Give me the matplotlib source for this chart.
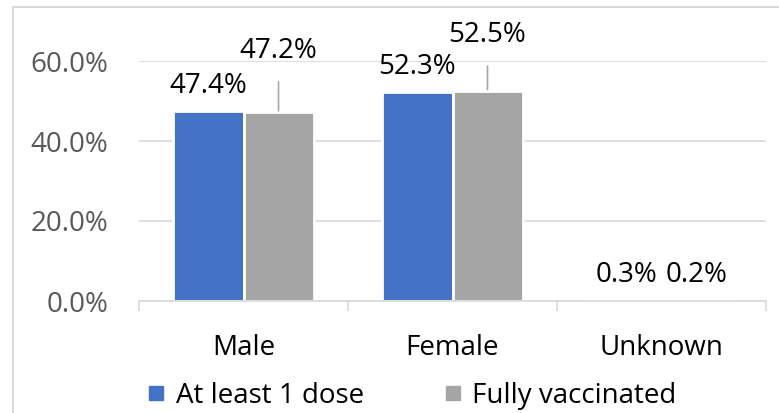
import matplotlib
matplotlib.use("Agg")
import matplotlib.pyplot as plt
from matplotlib.patches import Rectangle
from matplotlib.lines import Line2D
import numpy as np

plt.rcParams['font.family'] = ['Open Sans', 'DejaVu Sans']

# data
categories = ["Male", "Female", "Unknown"]
series_names = ["At least 1 dose", "Fully vaccinated"]
at_least_one = [0.474, 0.523, 0.003]
fully_vacc = [0.472, 0.525, 0.002]
yticks = [0.0, 0.2, 0.4, 0.6]

blue = "#4472C4"
gray = "#A5A5A5"
grid_c = "#D9D9D9"

fig = plt.figure(figsize=(7.79, 4.13), dpi=100)
ax = fig.add_axes([139/779, 1 - 301/413, (766-139)/779, (301-61)/413])

x = np.arange(len(categories))
w = 0.335
ax.bar(x - w/2, at_least_one, w, color=blue, edgecolor="white", linewidth=2, zorder=3)
ax.bar(x + w/2, fully_vacc, w, color=gray, edgecolor="white", linewidth=2, zorder=3)

ax.set_xlim(-0.5, 2.5)
ax.set_ylim(0, 0.6)
ax.set_yticks(yticks)
ax.set_yticklabels([f"{t:.1%}" for t in yticks], fontsize=20, color="#595959")
ax.tick_params(axis="y", length=0, pad=22)
ax.yaxis.grid(True, color=grid_c, linewidth=1.2, zorder=0)
ax.set_axisbelow(True)

ax.set_xticks(x)
ax.set_xticklabels(categories, fontsize=20, color="black")
ax.tick_params(axis="x", which="major", length=0, pad=24)
ax.set_xticks(np.arange(-0.5, 3, 1), minor=True)
ax.tick_params(axis="x", which="minor", length=7, width=1.2, color=grid_c, direction="out")

for s in ["top", "right", "left"]:
    ax.spines[s].set_visible(False)
ax.spines["bottom"].set_color(grid_c)
ax.spines["bottom"].set_linewidth(1.2)
ax.spines["bottom"].set_zorder(4)

# data labels
for xi, v in zip(x, at_least_one):
    ax.annotate(f"{v:.1%}", xy=(xi - w/2, v), xytext=(0, 18), textcoords="offset points",
                ha="center", va="center", fontsize=20, annotation_clip=False)

gray_offsets = [44, 40, 18]
for xi, v, off in zip(x, fully_vacc, gray_offsets):
    arrow = None
    if off > 30:
        arrow = dict(arrowstyle="-", color="#A6A6A6", lw=1.2, shrinkA=10, shrinkB=1)
    ax.annotate(f"{v:.1%}", xy=(xi + w/2, v), xytext=(0, off), textcoords="offset points",
                ha="center", va="center", fontsize=20, annotation_clip=False,
                arrowprops=arrow)

# legend
handles = [Line2D([], [], marker="s", linestyle="", color=blue, markersize=9.5),
           Line2D([], [], marker="s", linestyle="", color=gray, markersize=9.5)]
fig.legend(handles, series_names, loc="center", bbox_to_anchor=(0.529, 1 - 396/413),
           ncol=2, frameon=False, fontsize=20, handlelength=0.6, handletextpad=0.4,
           columnspacing=2.9, borderaxespad=0, borderpad=0)

# chart border
fig.patches.append(Rectangle((13/779, -0.2), 1.2, 1.2 - 7/413, transform=fig.transFigure,
                             fill=False, edgecolor=grid_c, linewidth=1.5))

fig.savefig("out.png", dpi=100)
